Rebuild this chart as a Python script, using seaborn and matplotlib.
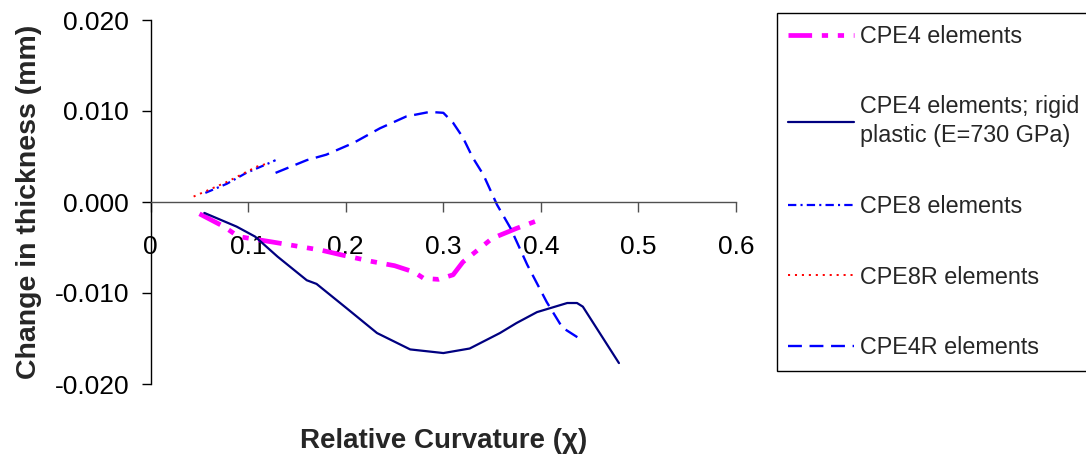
import matplotlib
matplotlib.use("Agg")
import matplotlib.pyplot as plt
import seaborn as sns

# Change in thickness (mm) against relative curvature, per element type
cpe4_x = [0.05, 0.075, 0.09, 0.125, 0.175, 0.195, 0.225, 0.25, 0.27, 0.28,
          0.295, 0.31, 0.32, 0.335, 0.35, 0.375, 0.40]
cpe4_y = [-0.0013, -0.0027, -0.0038, -0.0044, -0.0053, -0.0058, -0.0065, -0.0070,
          -0.0077, -0.0084, -0.0085, -0.0080, -0.0066, -0.0053, -0.0040, -0.0029, -0.0019]

rigid_x = [0.055, 0.088, 0.107, 0.13, 0.16, 0.17, 0.20, 0.232, 0.266, 0.30,
           0.327, 0.358, 0.375, 0.396, 0.427, 0.437, 0.443, 0.48]
rigid_y = [-0.0012, -0.0027, -0.0038, -0.0060, -0.0086, -0.0090, -0.0116, -0.0144,
           -0.0162, -0.0166, -0.0161, -0.0144, -0.0133, -0.0121, -0.0111, -0.0111,
           -0.0115, -0.0177]

cpe8_x = [0.056, 0.078, 0.098, 0.122, 0.128]
cpe8_y = [0.0010, 0.0020, 0.0032, 0.0043, 0.0046]

cpe8r_x = [0.044, 0.078, 0.109, 0.122]
cpe8r_y = [0.0006, 0.0022, 0.0039, 0.0043]

cpe4r_x = [0.128, 0.16, 0.18, 0.208, 0.235, 0.262, 0.286, 0.30, 0.31, 0.32,
           0.33, 0.341, 0.355, 0.369, 0.386, 0.406, 0.422, 0.438]
cpe4r_y = [0.0032, 0.0046, 0.0052, 0.0065, 0.0081, 0.0094, 0.0099, 0.0098, 0.0087,
           0.0071, 0.0049, 0.0030, -0.0003, -0.0029, -0.0069, -0.0110, -0.0138, -0.0149]

labels = ["CPE4 elements",
          "CPE4 elements; rigid\nplastic (E=730 GPa)",
          "CPE8 elements",
          "CPE8R elements",
          "CPE4R elements"]

x_ticks = [0, 0.1, 0.2, 0.3, 0.4, 0.5, 0.6]
x_tick_labels = ["0", "0.1", "0.2", "0.3", "0.4", "0.5", "0.6"]
y_ticks = [-0.020, -0.010, 0.000, 0.010, 0.020]
y_tick_labels = ["-0.020", "-0.010", "0.000", "0.010", "0.020"]

sns.set_theme(style="white")
plt.rcParams["font.family"] = ["Liberation Sans", "DejaVu Sans"]
plt.rcParams["lines.scale_dashes"] = False

W, H = 1086, 457
fig = plt.figure(figsize=(W / 100, H / 100), dpi=100)
ax = fig.add_axes([150.7 / W, 73 / H, 585.3 / W, 364 / H])

series = [
    (cpe4_x, cpe4_y, "#FF00FF", 3.4, (0, (17, 7, 4.5, 7, 4.5, 7))),
    (rigid_x, rigid_y, "#000080", 1.6, "-"),
    (cpe8_x, cpe8_y, "#0000FF", 1.6, (0, (6, 3, 1.5, 3))),
    (cpe8r_x, cpe8r_y, "#FF0000", 1.4, (0, (1.5, 3.5))),
    (cpe4r_x, cpe4r_y, "#0000FF", 1.7, (0, (10, 5.5))),
]
for (xs, ys, col, lw, ls), lab in zip(series, labels):
    sns.lineplot(x=xs, y=ys, ax=ax, color=col, linewidth=lw, linestyle=ls,
                 sort=False, estimator=None, label=lab)

ax.set_xlim(0, 0.6)
ax.set_ylim(-0.02, 0.02)

for s in ("top", "right"):
    ax.spines[s].set_visible(False)
ax.spines["bottom"].set_position(("data", 0))
ax.spines["bottom"].set_color("#505050")
ax.spines["left"].set_color("black")
ax.spines["bottom"].set_linewidth(1.0)
ax.spines["left"].set_linewidth(1.0)

ax.set_xticks(x_ticks)
ax.set_xticklabels(x_tick_labels)
ax.set_yticks(y_ticks)
ax.set_yticklabels(y_tick_labels)
ax.tick_params(axis="x", direction="out", length=7, width=1, color="#505050",
               pad=17, labelsize=19, labelcolor="black", bottom=True)
ax.tick_params(axis="y", direction="out", length=6.5, width=1, color="black",
               pad=9, labelsize=19, labelcolor="black", left=True)

ax.set_xlabel("Relative Curvature (\u03c7)", fontsize=20, fontweight="bold")
ax.set_ylabel("Change in thickness (mm)", fontsize=20.5, fontweight="bold")
ax.xaxis.set_label_coords(0.5, -0.12)
ax.yaxis.set_label_coords(-0.186, 0.5)

ax.grid(False)

handles, labs = ax.get_legend_handles_labels()
leg = ax.legend(handles, labs, loc="upper left",
                bbox_to_anchor=(776.7 / W, 1 - 13 / H), bbox_transform=fig.transFigure,
                borderaxespad=0, frameon=True, fancybox=False, shadow=False,
                fontsize=16.8, handlelength=2.83, handletextpad=0.26,
                borderpad=0.5, labelspacing=2.05)
leg.get_frame().set_edgecolor("black")
leg.get_frame().set_linewidth(1.0)
leg.get_frame().set_alpha(1)
leg.get_texts()[1].set_linespacing(1.3)

fig.savefig("out.png", dpi=100)
